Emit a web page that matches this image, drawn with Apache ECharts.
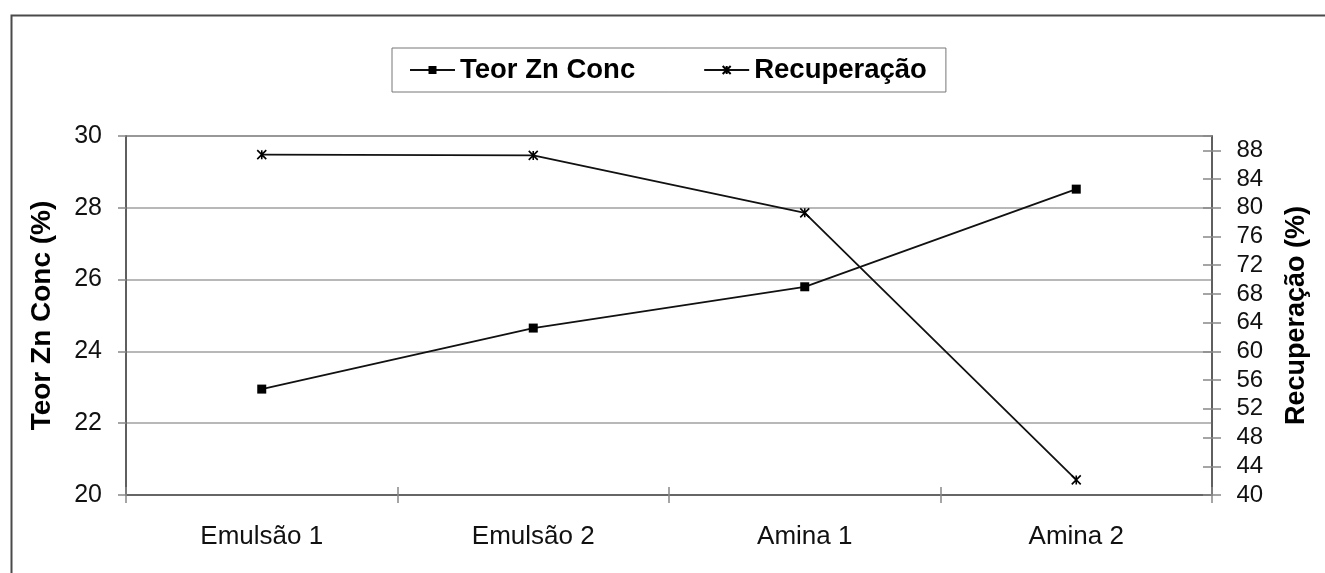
<!DOCTYPE html>
<html>
<head>
<meta charset="utf-8">
<script src="https://cdn.jsdelivr.net/npm/echarts@6/dist/echarts.min.js"></script>
<style>
html,body{margin:0;padding:0;background:#fff;}
#c{width:1325px;height:573px;}
</style>
</head>
<body>
<div id="c"></div>
<script>
var categories = ['Emulsão 1', 'Emulsão 2', 'Amina 1', 'Amina 2'];
var teorZn = [22.95, 24.65, 25.8, 28.52];
var recuperacao = [87.4, 87.3, 79.3, 42.1];
var leftTicks = {min: 20, max: 30, interval: 2};
var rightTicks = {min: 40, max: 90, interval: 4};

var FONT = "'Liberation Sans', Arial, sans-serif";
var chart = echarts.init(document.getElementById('c'), null, {renderer: 'canvas'});
var star = 'path://M0,0L10,10M10,0L0,10M5,0L5,10';

chart.setOption({
  backgroundColor: '#fff',
  animation: false,
  graphic: [{
    type: 'rect', left: 9, top: 13, z: -10,
    shape: {width: 1400, height: 700},
    style: {fill: 'none', stroke: '#4a4a4a', lineWidth: 2}
  }],
  legend: {
    left: 392, top: 48,
    padding: [8, 19, 8, 17],
    borderColor: '#777', borderWidth: 1,
    itemWidth: 45, itemHeight: 10, itemGap: 68,
    textStyle: {fontFamily: FONT, fontSize: 27.5, fontWeight: 'bold', color: '#000'},
    data: ['Teor Zn Conc', 'Recuperação']
  },
  grid: {
    left: 126, right: 113, top: 136, bottom: 78,
    show: true, borderColor: '#555', borderWidth: 1.5, backgroundColor: 'transparent'
  },
  xAxis: [{
    type: 'category', data: categories, boundaryGap: true,
    axisLine: {lineStyle: {color: '#555', width: 1.5}},
    axisTick: {show: true, inside: false, length: 8, lineStyle: {color: '#888', width: 1.5}},
    axisLabel: {fontFamily: FONT, fontSize: 26, color: '#111', margin: 29},
    splitLine: {show: false}
  }, {
    type: 'category', data: categories, boundaryGap: true, position: 'bottom',
    axisLine: {show: false},
    axisTick: {show: true, inside: true, length: 8, lineStyle: {color: '#888', width: 1.5}},
    axisLabel: {show: false},
    splitLine: {show: false}
  }],
  yAxis: [{
    type: 'value', position: 'left',
    min: leftTicks.min, max: leftTicks.max, interval: leftTicks.interval,
    name: 'Teor Zn Conc (%)', nameLocation: 'middle', nameGap: 70, nameRotate: 90,
    nameTextStyle: {fontFamily: FONT, fontSize: 28, fontWeight: 'bold', color: '#000'},
    axisLine: {show: true, lineStyle: {color: '#555', width: 1.5}},
    axisTick: {show: true, inside: false, length: 8, lineStyle: {color: '#888', width: 1.5}},
    axisLabel: {fontFamily: FONT, fontSize: 25, color: '#111', margin: 24},
    splitLine: {show: true, lineStyle: {color: '#a0a0a0', width: 1.5}}
  }, {
    type: 'value', position: 'right',
    min: rightTicks.min, max: rightTicks.max, interval: rightTicks.interval,
    name: 'Recuperação (%)', nameLocation: 'middle', nameGap: 71, nameRotate: 90,
    nameTextStyle: {fontFamily: FONT, fontSize: 27, fontWeight: 'bold', color: '#000'},
    axisLine: {show: true, lineStyle: {color: '#555', width: 1.5}},
    axisTick: {show: true, inside: false, length: 9, lineStyle: {color: '#888', width: 1.5}},
    axisLabel: {fontFamily: FONT, fontSize: 24, color: '#111', margin: 24.5, showMaxLabel: false},
    splitLine: {show: false}
  }, {
    type: 'value', position: 'right',
    min: rightTicks.min, max: rightTicks.max, interval: rightTicks.interval,
    axisLine: {show: false},
    axisTick: {show: true, inside: true, length: 9, lineStyle: {color: '#888', width: 1.5}},
    axisLabel: {show: false},
    splitLine: {show: false}
  }],
  series: [{
    name: 'Teor Zn Conc', type: 'line', xAxisIndex: 0, yAxisIndex: 0,
    data: teorZn,
    symbol: 'rect', symbolSize: 9,
    lineStyle: {color: '#111', width: 1.8},
    itemStyle: {color: '#000'}
  }, {
    name: 'Recuperação', type: 'line', xAxisIndex: 0, yAxisIndex: 1,
    data: recuperacao,
    symbol: star, symbolSize: 9,
    lineStyle: {color: '#111', width: 1.8},
    itemStyle: {color: '#000', borderColor: '#000', borderWidth: 1.6}
  }]
});
</script>
</body>
</html>
